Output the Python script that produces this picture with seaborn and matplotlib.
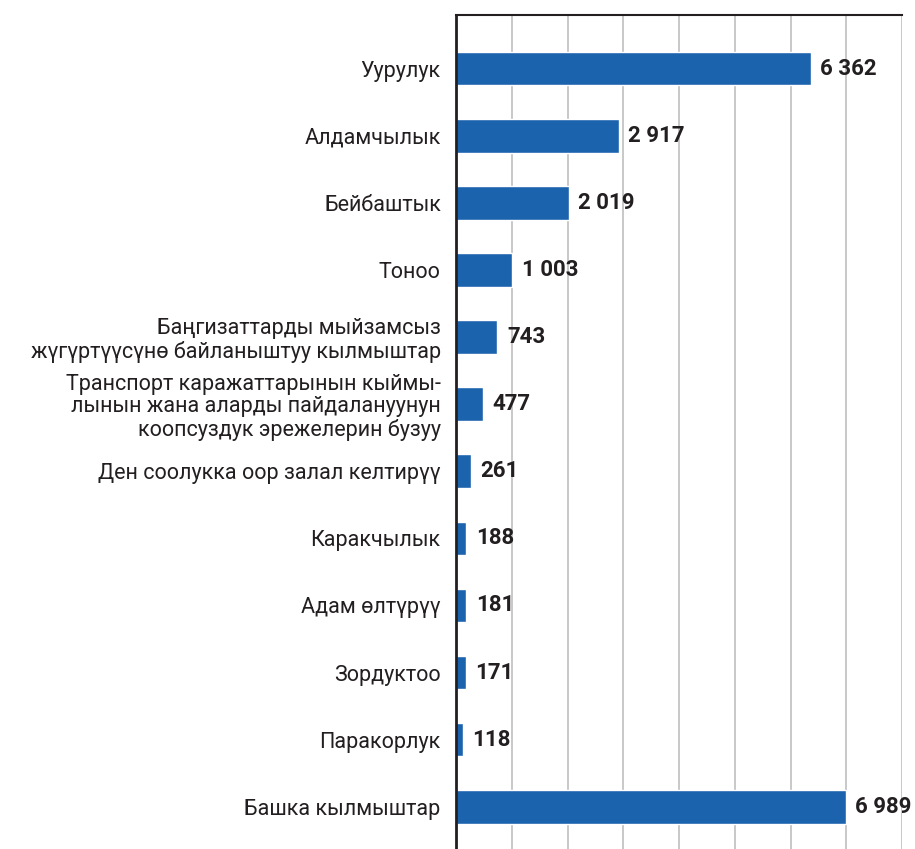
import numpy as np
import pandas as pd
import seaborn as sns
import matplotlib.pyplot as plt

categories = [
    "Уурулук",
    "Алдамчылык",
    "Бейбаштык",
    "Тоноо",
    "Баңгизаттарды мыйзамсыз\nжүгүртүүсүнө байланыштуу кылмыштар",
    "Транспорт каражаттарынын кыймы-\nлынын жана аларды пайдалануунун\nкоопсуздук эрежелерин бузуу",
    "Ден соолукка оор залал келтирүү",
    "Каракчылык",
    "Адам өлтүрүү",
    "Зордуктоо",
    "Паракорлук",
    "Башка кылмыштар",
]
values = [6362, 2917, 2019, 1003, 743, 477, 261, 188, 181, 171, 118, 6989]

data = pd.DataFrame({"cat": categories, "val": values})

sns.set_style("white")
plt.rcParams['font.family'] = ['Roboto', 'Noto Sans', 'DejaVu Sans']

fig = plt.figure(figsize=(9.15, 8.49), dpi=100)
ax = fig.add_axes([456 / 915, 0.0, 446 / 915, 1 - 15 / 849])

sns.barplot(data=data, x="val", y="cat", orient="h", color="#1c63ad",
            saturation=1, width=0.5, ax=ax)

ax.set_xlim(0, 8000)
ax.set_ylim(11.63, -0.8)
ax.set_xticks(np.arange(0, 8001, 1000))
ax.set_xticklabels([])
ax.xaxis.grid(True, color="#c8c8c8", linewidth=1.4)
ax.set_axisbelow(True)
ax.set_xlabel("")
ax.set_ylabel("")
ax.tick_params(axis="both", length=0)
ax.tick_params(axis="y", pad=11, labelsize=15.5, labelcolor="#231f20")
for lab in ax.get_yticklabels():
    lab.set_multialignment("right")
    lab.set_linespacing(1.1)

for sp in ["right", "bottom"]:
    ax.spines[sp].set_visible(False)
ax.spines["left"].set_color("#231f20")
ax.spines["left"].set_linewidth(2)
ax.spines["top"].set_color("#231f20")
ax.spines["top"].set_linewidth(1.5)

for i, v in enumerate(values):
    txt = f"{v:,}".replace(",", " ")
    ax.annotate(txt, (v, i), xytext=(7, 0), textcoords="offset points",
                ha="left", va="center", fontsize=16, fontweight="bold",
                color="#231f20", annotation_clip=False)

fig.savefig("out.png", dpi=100)
